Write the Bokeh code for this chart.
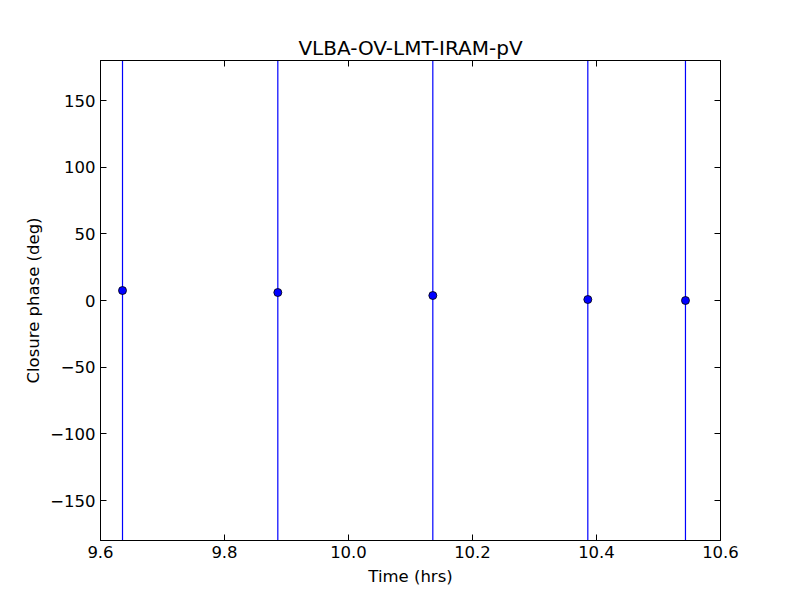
from bokeh.plotting import figure
from bokeh.models import LinearAxis, FixedTicker, PrintfTickFormatter, Range1d, ColumnDataSource, CustomJSTickFormatter
from bokeh.embed import file_html
from bokeh.resources import INLINE

# data
times = [9.6355, 9.886, 10.136, 10.386, 10.5435]
cphase = [7.5, 6.0, 3.75, 0.75, 0.0]
cphase_err = [250.0, 250.0, 250.0, 250.0, 250.0]
x_ticks = [9.6, 9.8, 10.0, 10.2, 10.4, 10.6]
y_ticks = [-150, -100, -50, 0, 50, 100, 150]

FONT = "DejaVu Sans"

src = ColumnDataSource(dict(
    x=times, y=cphase,
    lo=[v - e for v, e in zip(cphase, cphase_err)],
    hi=[v + e for v, e in zip(cphase, cphase_err)],
))

p = figure(output_backend="svg", toolbar_location=None,
           frame_width=620, frame_height=480,
           min_border_left=100, min_border_top=60, min_border_right=64, min_border_bottom=44,
           x_range=Range1d(9.6, 10.6), y_range=Range1d(-180, 180),
           x_axis_label="Time (hrs)", y_axis_label="Closure phase (deg)",
           title="VLBA-OV-LMT-IRAM-pV")

p.segment(x0="x", y0="lo", x1="x", y1="hi", source=src, line_color="blue", line_width=1.2)
p.scatter(x="x", y="y", source=src, size=8, fill_color="blue", line_color="black", line_width=0.8)

p.grid.visible = False
p.background_fill_color = "white"
p.border_fill_color = "white"
p.outline_line_color = "black"
p.outline_line_width = 1

p.title.text_font = FONT
p.title.text_font_size = "20px"
p.title.text_font_style = "normal"
p.title.align = "center"
p.title.text_color = "black"
p.title.standoff = 2

def style(ax):
    ax.axis_line_color = "black"
    ax.major_tick_in = 6
    ax.major_tick_out = 0
    ax.minor_tick_in = 0
    ax.minor_tick_out = 0
    ax.major_tick_line_color = "black"
    ax.major_label_text_font = FONT
    ax.major_label_text_font_size = "16.5px"
    ax.major_label_text_color = "black"
    ax.major_label_standoff = 5
    ax.axis_label_text_font = FONT
    ax.axis_label_text_font_size = "16.5px"
    ax.axis_label_text_font_style = "normal"
    ax.axis_label_text_color = "black"
    ax.axis_label_standoff = 6

p.xaxis.ticker = FixedTicker(ticks=x_ticks)
p.xaxis.formatter = PrintfTickFormatter(format="%.1f")
p.yaxis.ticker = FixedTicker(ticks=y_ticks)
for ax in p.xaxis + p.yaxis:
    style(ax)
p.yaxis.axis_label_standoff = 4

blank = CustomJSTickFormatter(code="return '';")
top = LinearAxis(ticker=FixedTicker(ticks=x_ticks), formatter=blank)
right = LinearAxis(ticker=FixedTicker(ticks=y_ticks), formatter=blank)
style(top)
style(right)
top.major_label_standoff = 0
right.major_label_standoff = 0
p.add_layout(top, "above")
p.add_layout(right, "right")

open("out.html", "w").write(file_html(p, INLINE))
